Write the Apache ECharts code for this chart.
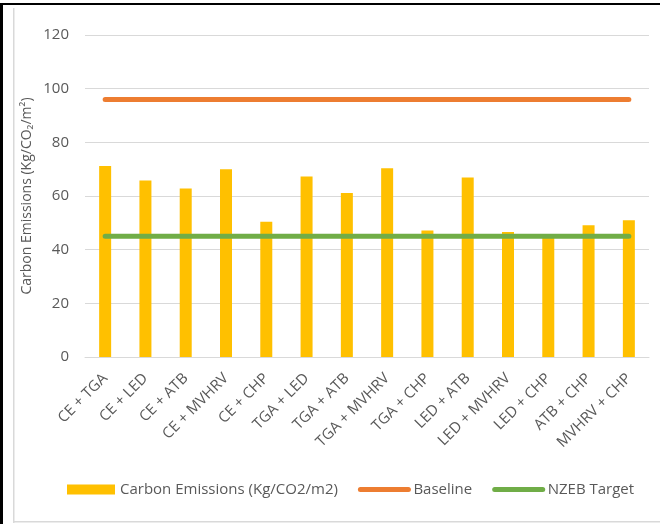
<!DOCTYPE html>
<html>
<head>
<meta charset="utf-8">
<script src="https://cdn.jsdelivr.net/npm/echarts@6/dist/echarts.min.js"></script>
<style>
html,body{margin:0;padding:0;background:#fff;}
#chart{width:660px;height:524px;}
</style>
</head>
<body>
<div id="chart"></div>
<script>
const categories = ['CE + TGA','CE + LED','CE + ATB','CE + MVHRV','CE + CHP','TGA + LED','TGA + ATB','TGA + MVHRV','TGA + CHP','LED + ATB','LED + MVHRV','LED + CHP','ATB + CHP','MVHRV + CHP'];
const emissions = [71.2, 65.8, 62.8, 70.0, 50.4, 67.3, 61.1, 70.3, 47.1, 66.9, 46.6, 45.0, 49.1, 51.0];
const baseline = [96, 96, 96, 96, 96, 96, 96, 96, 96, 96, 96, 96, 96, 96];
const nzebTarget = [45, 45, 45, 45, 45, 45, 45, 45, 45, 45, 45, 45, 45, 45];
const yTicks = [0, 20, 40, 60, 80, 100, 120];

const font = 'Open Sans, Liberation Sans, sans-serif';
const txt = '#595959';
const chart = echarts.init(document.getElementById('chart'), null, {renderer:'canvas'});
chart.setOption({
  backgroundColor: '#ffffff',
  animation: false,
  graphic: [
    {type:'rect', shape:{x:0,y:3,width:660,height:2}, style:{fill:'#000'}, silent:true},
    {type:'rect', shape:{x:0,y:3,width:3,height:521}, style:{fill:'#000'}, silent:true},
    {type:'rect', shape:{x:13,y:8,width:1.5,height:515}, style:{fill:'#d9d9d9'}, silent:true},
    {type:'rect', shape:{x:13,y:521,width:647,height:1.5}, style:{fill:'#d9d9d9'}, silent:true}
  ],
  grid: {left: 85, right: 11, top: 35, bottom: 167, containLabel: false},
  legend: {
    bottom: 22,
    left: 62,
    itemGap: 20,
    itemWidth: 48,
    itemHeight: 10,
    textStyle: {color: txt, fontSize: 15, fontFamily: font},
    data: [
      {name: 'Carbon Emissions (Kg/CO2/m2)', icon: 'rect'},
      {name: 'Baseline', itemStyle: {opacity: 0}, lineStyle: {width: 5, cap: 'round', color: '#ED7D31'}},
      {name: 'NZEB Target', itemStyle: {opacity: 0}, lineStyle: {width: 5, cap: 'round', color: '#70AD47'}}
    ]
  },
  xAxis: {
    type: 'category',
    data: categories,
    boundaryGap: true,
    axisLine: {lineStyle: {color: '#d9d9d9', width: 1}},
    axisTick: {show: false},
    axisLabel: {rotate: 45, color: txt, fontSize: 15, fontFamily: font, margin: 19, interval: 0}
  },
  yAxis: {
    type: 'value',
    min: 0, max: 120, interval: 20,
    name: 'Carbon Emissions (Kg/CO\u2082/m\u00B2)',
    nameLocation: 'middle',
    nameGap: 51,
    nameMoveOverlap: false,
    nameTextStyle: {color: txt, fontSize: 14, fontFamily: font},
    axisLine: {show: false},
    axisTick: {show: false},
    splitLine: {lineStyle: {color: '#d9d9d9', width: 1}},
    axisLabel: {color: txt, fontSize: 15, fontFamily: font, margin: 16,
      formatter: v => yTicks.includes(v) ? String(v) : ''}
  },
  series: [
    {name: 'Carbon Emissions (Kg/CO2/m2)', type: 'bar', data: emissions, barWidth: 12,
     itemStyle: {color: '#FFC000'}, z: 2},
    {name: 'Baseline', type: 'line', data: baseline, symbol: 'none',
     lineStyle: {color: '#ED7D31', width: 5, cap: 'round'}, itemStyle: {color: '#ED7D31'}, z: 3},
    {name: 'NZEB Target', type: 'line', data: nzebTarget, symbol: 'none',
     lineStyle: {color: '#70AD47', width: 5, cap: 'round'}, itemStyle: {color: '#70AD47'}, z: 4}
  ]
});
</script>
</body>
</html>
